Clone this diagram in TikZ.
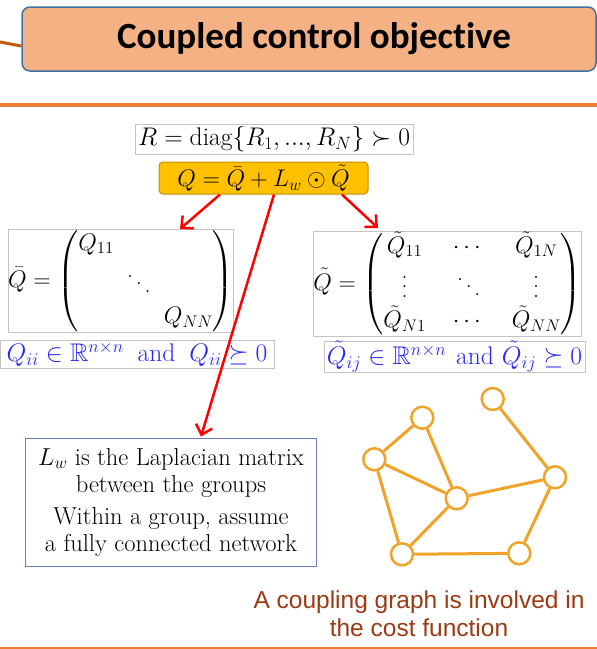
\RequirePackage{fix-cm}
\documentclass[tikz,border=0pt]{standalone}
\usepackage{amsmath,amssymb}
\usepackage{fontspec}
\newfontfamily\calibfont[Ligatures=NoCommon]{Carlito}
\newfontfamily\arialfont{Liberation Sans}
\usetikzlibrary{arrows.meta,calc}
\newcommand\bigvdots{\vbox{\baselineskip=9.6pt\lineskiplimit=0pt\kern14.4pt\hbox{.}\hbox{.}\hbox{.}}}
\newcommand\bigddots{\mathinner{\mkern1mu\raise16.8pt\vbox{\kern16.8pt\hbox{.}}\mkern2mu\raise9.6pt\hbox{.}\mkern2mu\raise2.4pt\hbox{.}\mkern1mu}}
\definecolor{titlefill}{RGB}{244,177,131}
\definecolor{titledraw}{RGB}{65,113,156}
\definecolor{sepcol}{RGB}{237,125,49}
\definecolor{conncol}{RGB}{197,90,17}
\definecolor{qfill}{RGB}{255,192,0}
\definecolor{qdraw}{RGB}{191,144,0}
\definecolor{arrred}{RGB}{255,0,0}
\definecolor{mathblue}{RGB}{40,40,245}
\definecolor{boxgray}{RGB}{195,195,195}
\definecolor{lwdraw}{RGB}{110,125,190}
\definecolor{gorange}{RGB}{240,163,40}
\definecolor{capbrown}{RGB}{155,58,20}
\begin{document}
\begin{tikzpicture}[x=1pt,y=-1pt,
  titlebox/.style={draw=titledraw, line width=1.5pt, fill=titlefill, rounded corners=8pt,
    minimum width=574pt, minimum height=64pt, inner sep=0pt,
    font=\calibfont\bfseries\fontsize{37}{42}\selectfont},
  mbox/.style={draw=boxgray, line width=0.8pt, fill=white, inner sep=0pt,
    font=\fontsize{24}{29}\selectfont},
  bluebox/.style={mbox, text=mathblue, font=\fontsize{25.5}{30}\selectfont},
  qbox/.style={draw=qdraw, line width=1pt, fill=qfill, rounded corners=4pt, inner sep=0pt,
    font=\fontsize{24}{29}\selectfont},
  redarr/.style={draw=arrred, line width=2.5pt, -{Straight Barb[length=9pt,width=17pt]}},
  lwbox/.style={draw=lwdraw, line width=1pt, fill=white, inner sep=0pt, align=center,
    font=\fontsize{24.5}{27}\selectfont},
  gnode/.style={circle, draw=gorange, line width=2.5pt, fill=white, minimum size=22pt, inner sep=0pt},
  gedge/.style={draw=gorange, line width=3pt},
  captext/.style={align=center, text=capbrown, font=\arialfont\fontsize{24.5}{28}\selectfont}
]
\useasboundingbox (0,0) rectangle (597,649);

% title
\node[titlebox] (title) at (309,39) {\hspace*{10pt}Coupled control objective};
\coordinate (cstart) at (0,42);
\draw[conncol, line width=3pt] (cstart) -- ($(title.west)+(0,7)$);

% separators
\coordinate (s1) at (0,105);
\coordinate (s2) at (597,105);
\draw[sepcol, line width=3.5pt] (s1) -- (s2);
\coordinate (b1) at (0,647.5);
\coordinate (b2) at (597,647.5);
\draw[sepcol, line width=2pt] (b1) -- (b2);

% R and Q
\node[mbox, minimum width=278pt, minimum height=30pt, font=\fontsize{25.5}{29}\selectfont] (rbox) at (274,139)
  {$R=\mathrm{diag}\{R_1,...,R_N\}\succ 0$};
\node[qbox, minimum width=209pt, minimum height=32pt] (qbox) at (263.5,178)
  {$Q=\bar{Q}+L_w\odot\tilde{Q}$};

% matrices
\node[mbox, minimum width=222pt, minimum height=96pt] (qbar) at (121,281)
  {\setlength{\arraycolsep}{6pt}$\bar{Q}=\begin{pmatrix}Q_{11}&&\\&\bigddots&\\&&Q_{NN}\end{pmatrix}$};
\node[mbox, minimum width=265pt, minimum height=104pt] (qtil) at (447.5,284)
  {\setlength{\arraycolsep}{13.5pt}$\tilde{Q}=\begin{pmatrix}\tilde{Q}_{11}&\cdots&\tilde{Q}_{1N}\\\bigvdots&\bigddots&\bigvdots\\\tilde{Q}_{N1}&\cdots&\tilde{Q}_{NN}\end{pmatrix}$};

\node[bluebox, minimum width=274pt, minimum height=28pt] (qbarc) at (137,354.5)
  {$Q_{ii}\in\mathbb{R}^{n\times n}$\hspace{14pt}and\hspace{14pt}$Q_{ii}\succeq 0$};
\node[bluebox, minimum width=261pt, minimum height=31pt] (qtilc) at (454.5,356.5)
  {$\tilde{Q}_{ij}\in\mathbb{R}^{n\times n}$\hspace{10pt}and\hspace{8pt}$\tilde{Q}_{ij}\succeq 0$};

% Lw box
\node[lwbox, minimum width=291pt, minimum height=128pt] (lwbox) at (171,502)
  {$L_w$ is the Laplacian matrix\\between the groups\\[5pt]Within a group, assume\\a fully connected network};

% arrows
\coordinate (lt) at (180,229);
\coordinate (rt) at (378,228);
\draw[redarr] ($(qbox.south)+(-43.5,0)$) -- (lt);
\draw[redarr] ($(qbox.south)+(78.5,0)$) -- (rt);
\draw[redarr] ($(qbox.south)+(10.5,0)$) -- ($(lwbox.north)+(30,-1)$);

% graph
\node[gnode] (g1) at (492.7,399) {};
\node[gnode] (g2) at (422.3,417.7) {};
\node[gnode] (g3) at (374.3,459.3) {};
\node[gnode] (g4) at (456.7,498.3) {};
\node[gnode] (g5) at (555,477.3) {};
\node[gnode] (g6) at (402,554.3) {};
\node[gnode] (g7) at (519.3,553.3) {};
\draw[gedge] (g1) -- (g5);
\draw[gedge] (g2) -- (g3);
\draw[gedge] (g2) -- (g4);
\draw[gedge] (g3) -- (g4);
\draw[gedge] (g3) -- (g6);
\draw[gedge] (g4) -- (g5);
\draw[gedge] (g4) -- (g6);
\draw[gedge] (g6) -- (g7);
\draw[gedge] (g7) -- (g5);

% caption
\node[captext] (cap) at (419,614) {A coupling graph is involved in\\the cost function};
\end{tikzpicture}
\end{document}
